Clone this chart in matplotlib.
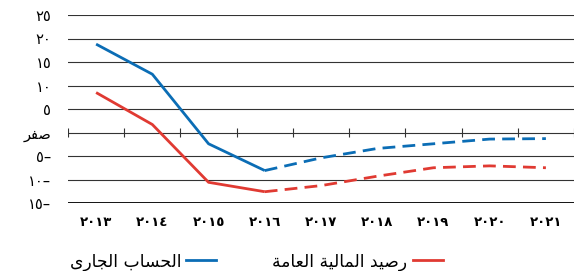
import numpy as np
import matplotlib
matplotlib.use("Agg")
import matplotlib.pyplot as plt
from matplotlib.lines import Line2D

# data (Arabic text in presentation forms, visual order, as matplotlib has no bidi)
years = ["٢٠١٣", "٢٠١٤", "٢٠١٥", "٢٠١٦", "٢٠١٧", "٢٠١٨", "٢٠١٩", "٢٠٢٠", "٢٠٢١"]
current_account = [18.8, 12.4, -2.4, -8.1, -5.4, -3.4, -2.4, -1.4, -1.3]
fiscal_balance = [8.5, 1.7, -10.6, -12.6, -11.3, -9.3, -7.5, -7.1, -7.5]
n_actual = 4  # 2013-2016 solid, rest dashed

y_ticks = [25, 20, 15, 10, 5, 0, -5, -10, -15]
y_labels = ["٢٥", "٢٠", "١٥", "١٠", "٥", "\uFEAE\uFED4\uFEBB",
            "٥–", "١٠–", "١٥–"]

lbl_ca = "\uFEEF\uFEAD\uFE8E\uFEA0\uFEDF\uFE8D \uFE8F\uFE8E\uFEB4\uFEA4\uFEDF\uFE8D"
lbl_fb = ("\uFE94\uFEE3\uFE8E\uFECC\uFEDF\uFE8D "
          "\uFE94\uFEF4\uFEDF\uFE8E\uFEE4\uFEDF\uFE8D "
          "\uFEAA\uFEF4\uFEBB\uFEAD")

blue = "#0b6db5"
red = "#e03a32"

plt.rcParams['font.family'] = ['DejaVu Sans']

fig = plt.figure(figsize=(5.8, 2.71), dpi=100)
ax = fig.add_axes([68 / 580, 1 - 203 / 271, (574 - 68) / 580, 188 / 271])

x = np.arange(len(years)) + 0.5

# grid lines
for v in y_ticks:
    if v == -15:
        ax.axhline(v, color="black", lw=1.3, zorder=1)
    else:
        ax.axhline(v, color="#333333", lw=0.8, zorder=1)
# tick marks on the zero line
ax.vlines(np.arange(len(years) + 1), -1.0, 1.0, color="#333333", lw=0.8, zorder=1)

for vals, col in [(current_account, blue), (fiscal_balance, red)]:
    ax.plot(x[:n_actual], vals[:n_actual], color=col, lw=2, solid_capstyle="butt", zorder=3)
    ax.plot(x[n_actual - 1:], vals[n_actual - 1:], color=col, lw=2,
            dashes=(4.6, 2.6), zorder=3)

ax.set_xlim(0, len(years))
ax.set_ylim(-15, 25)
ax.set_yticks(y_ticks)
ax.set_yticklabels(y_labels, fontsize=10.5)
ax.set_xticks(x)
ax.set_xticklabels(years, fontsize=9.5, fontweight="bold")
ax.tick_params(axis="y", length=0, pad=12)
ax.tick_params(axis="x", length=0, pad=9)
for s in ax.spines.values():
    s.set_visible(False)

handles = [Line2D([], [], color=blue, lw=2), Line2D([], [], color=red, lw=2)]
fig.legend(handles, [lbl_ca, lbl_fb], ncol=2, markerfirst=False, frameon=False,
           loc="center left", bbox_to_anchor=(0.12, 0.035), fontsize=12.3,
           handlelength=1.75, columnspacing=3.3, handletextpad=0.3,
           borderpad=0, borderaxespad=0)

fig.savefig("out.png", dpi=100)
